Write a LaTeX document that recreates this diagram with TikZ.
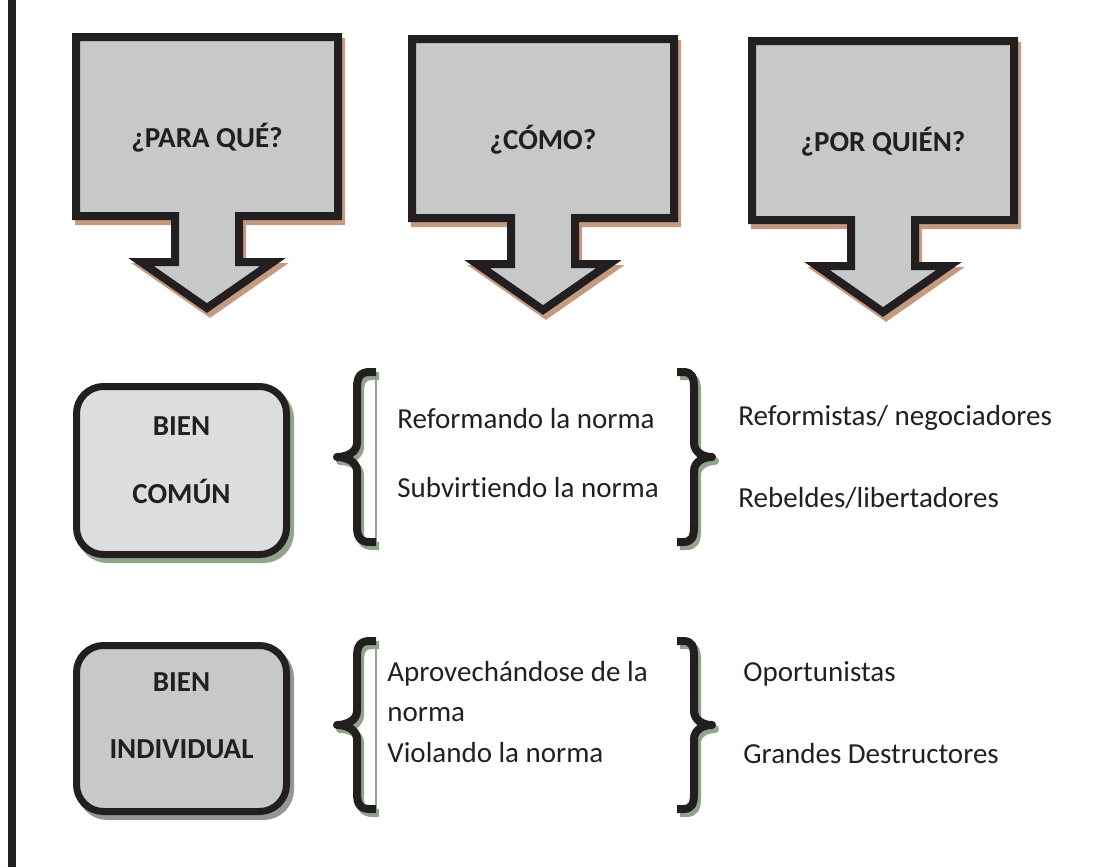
\documentclass[tikz,border=0pt]{standalone}
\usepackage{fontspec}
\setmainfont{Carlito}[Ligatures={NoCommon}]
\definecolor{inkblack}{HTML}{231F20}
\definecolor{arrowgray}{HTML}{C7C8CA}
\definecolor{arrowshade}{HTML}{C49B80}
\definecolor{lightbox}{HTML}{DCDDDF}
\definecolor{greenshade}{HTML}{8FA68A}
\definecolor{grayshade}{HTML}{949597}
\newcommand{\textsize}{\fontsize{14.5}{17.4}\selectfont}
\tikzset{
  downarrow/.style={draw=inkblack, fill=arrowgray, line width=4pt, miter limit=10},
  arrowshadow/.style={draw=arrowshade, fill=arrowshade, line width=4pt, miter limit=10, xshift=1.5pt, yshift=-2.5pt},
  question/.style={font=\textsize\bfseries, text=inkblack, anchor=base, inner sep=0pt},
  bienbox/.style={draw=inkblack, line width=3.5pt, rounded corners=13.5pt,
    minimum width=105pt, minimum height=84pt, inner sep=0pt},
  bienshadow/.style={preaction={draw=#1, fill=#1, transform canvas={shift={(2pt,-2.5pt)}}}},
  bientext/.style={font=\textsize\bfseries, text=inkblack, anchor=base, inner sep=0pt},
  bracket/.style={draw=inkblack, line width=4pt, line join=round},
  bracketshadow/.style={draw=greenshade, line width=4pt, line join=round, xshift=1.5pt, yshift=-2pt},
  listtext/.style={font=\textsize, text=inkblack, anchor=base west, inner sep=0pt}
}
\begin{document}
\begin{tikzpicture}[x=0.5pt, y=-0.5pt]
    \useasboundingbox (0,0) rectangle (1111,867);

    % left rule
    \draw[line width=4pt, inkblack] (12,0) -- (12,867);

    % the three questions
    \foreach \cx/\ty/\nm/\txt in {207/33/paraque/{¿PARA QUÉ?}, 543/35/como/{¿CÓMO?}, 883/37/porquien/{¿POR QUIÉN?}}
       {
            \foreach \sty in {arrowshadow, downarrow}
               \draw[\sty] ({\cx-131},{\ty+4}) -- ({\cx+131},{\ty+4}) -- ({\cx+131},{\ty+183})
                   -- ({\cx+32},{\ty+183}) -- ({\cx+32},{\ty+229}) -- ({\cx+66},{\ty+229})
                   -- (\cx,{\ty+275}) -- ({\cx-66},{\ty+229}) -- ({\cx-32},{\ty+229})
                   -- ({\cx-32},{\ty+183}) -- ({\cx-131},{\ty+183}) -- cycle;
            \node[question] (\nm) at (\cx,{\ty+114}) {\txt};
       }

    % the two kinds of good
    \node[bienbox, fill=lightbox, bienshadow=greenshade] (comun) at (181.5,470.5) {};
    \node[bientext] (comunA) at (181.5,435) {BIEN};
    \node[bientext] (comunB) at (181.5,503) {COMÚN};

    \node[bienbox, fill=arrowgray, minimum height=83pt, bienshadow=grayshade] (individual) at (181.5,728.5) {};
    \node[bientext] (individualA) at (181.5,691) {BIEN};
    \node[bientext] (individualB) at (181.5,758) {INDIVIDUAL};

    % braces
    \foreach \yt/\yb in {372/542, 641/809}
       {
            \pgfmathsetmacro{\ym}{(\yt+\yb)/2}
            \draw[greenshade, line width=0.8pt] (376,\yt) -- (376,{\yb+5});
            \foreach \sty in {bracketshadow, bracket}
               {
                    \draw[\sty] (376,\yt) -- (370,\yt) .. controls (360,\yt) and (357,{\yt+5}) .. (357,{\yt+16})
                        -- (357,{\ym-14}) .. controls (357,{\ym-5}) and (347,\ym) .. (337,\ym)
                        .. controls (347,\ym) and (357,{\ym+5}) .. (357,{\ym+14})
                        -- (357,{\yb-16}) .. controls (357,{\yb-5}) and (360,\yb) .. (370,\yb) -- (376,\yb);
                    \draw[\sty] (677,\yt) -- (683,\yt) .. controls (692,\yt) and (694,{\yt+5}) .. (694,{\yt+16})
                        -- (694,{\ym-14}) .. controls (694,{\ym-5}) and (703,\ym) .. (712,\ym)
                        .. controls (703,\ym) and (694,{\ym+5}) .. (694,{\ym+14})
                        -- (694,{\yb-16}) .. controls (694,{\yb-5}) and (692,\yb) .. (683,\yb) -- (677,\yb);
               }
       }

    % ways and actors
    \node[listtext] (reforma) at (397,428) {Reformando la norma};
    \node[listtext] (subvierte) at (397,497) {Subvirtiendo la norma};
    \node[listtext] (reformistas) at (738,425) {Reformistas/ negociadores};
    \node[listtext] (rebeldes) at (738,507) {Rebeldes/libertadores};

    \node[listtext] (aprovecha) at (387,681) {Aprovechándose de la};
    \node[listtext] (aprovechaB) at (387,721) {norma};
    \node[listtext] (viola) at (387,762) {Violando la norma};
    \node[listtext] (oportunistas) at (743,681) {Oportunistas};
    \node[listtext] (destructores) at (743,763) {Grandes Destructores};
\end{tikzpicture}
\end{document}
